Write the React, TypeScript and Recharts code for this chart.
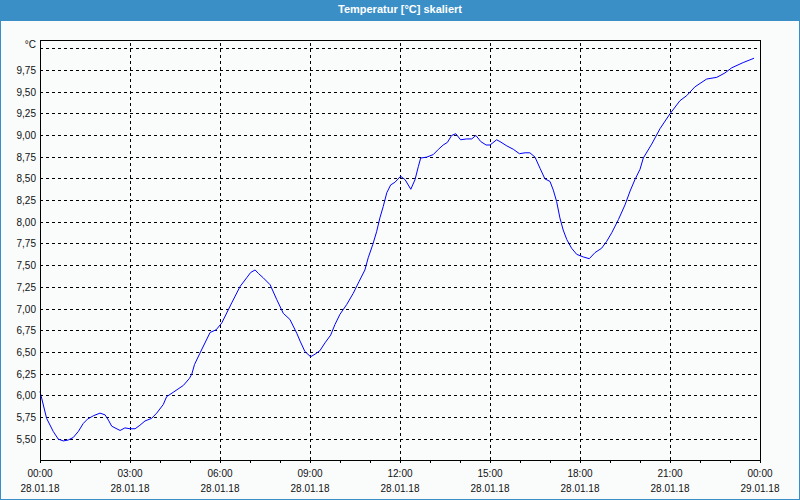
import React from 'react'
import {
  LineChart,
  Line,
  XAxis,
  YAxis,
  CartesianGrid,
  ReferenceLine,
  ReferenceArea,
} from 'recharts'

// Time of day in hours (28.01.18 00:00 = 0)
const hours = [
  0, 0.22, 0.44, 0.61, 0.78, 0.94, 1.11, 1.28, 1.44, 1.58, 1.78, 2.0, 2.17, 2.28, 2.39, 2.5, 2.67,
  2.83, 3.0, 3.17, 3.33, 3.5, 3.72, 3.89, 4.11, 4.22, 4.44, 4.78, 4.98, 5.06, 5.15, 5.33, 5.67, 5.87,
  6.06, 6.39, 6.67, 6.89, 7.02, 7.17, 7.28, 7.44, 7.67, 7.89, 8.11, 8.33, 8.56, 8.67, 8.83, 9.02,
  9.17, 9.33, 9.5, 9.69, 9.83, 10.0, 10.22, 10.44, 10.64, 10.83, 10.94, 11.09, 11.22, 11.33, 11.44,
  11.56, 11.69, 11.83, 12.02, 12.17, 12.36, 12.5, 12.61, 12.69, 12.89, 13.11, 13.28, 13.44, 13.58,
  13.72, 13.86, 14.02, 14.22, 14.39, 14.53, 14.69, 14.87, 15.0, 15.22, 15.33, 15.56, 15.78, 15.98,
  16.17, 16.33, 16.5, 16.67, 16.83, 17.0, 17.11, 17.22, 17.33, 17.44, 17.56, 17.72, 17.89, 18.11,
  18.31, 18.5, 18.72, 18.89, 19.06, 19.28, 19.5, 19.67, 19.83, 20.0, 20.11, 20.39, 20.67, 21.0,
  21.33, 21.56, 21.83, 22.22, 22.56, 22.83, 23.06, 23.44, 23.8,
]

// Temperature in °C
const temps = [
  6.05, 5.74, 5.59, 5.5, 5.48, 5.49, 5.52, 5.59, 5.68, 5.73, 5.77, 5.8, 5.78, 5.72, 5.65, 5.63, 5.6,
  5.63, 5.62, 5.62, 5.66, 5.71, 5.74, 5.8, 5.9, 5.99, 6.04, 6.12, 6.2, 6.25, 6.36, 6.49, 6.73, 6.76,
  6.84, 7.07, 7.26, 7.36, 7.42, 7.45, 7.41, 7.36, 7.28, 7.11, 6.95, 6.88, 6.72, 6.63, 6.51, 6.45,
  6.48, 6.52, 6.61, 6.7, 6.82, 6.94, 7.05, 7.18, 7.32, 7.45, 7.59, 7.74, 7.89, 8.05, 8.18,
  8.34, 8.43, 8.46, 8.53, 8.49, 8.38, 8.49, 8.64, 8.74, 8.75, 8.78, 8.84, 8.89, 8.92,
  9.0, 9.02, 8.95, 8.96, 8.96, 9.0, 8.93, 8.89, 8.89, 8.95, 8.93, 8.88, 8.84, 8.79,
  8.8, 8.8, 8.75, 8.62, 8.5, 8.47, 8.37, 8.24, 8.05, 7.91, 7.8, 7.7, 7.63, 7.6,
  7.58, 7.65, 7.7, 7.78, 7.88, 8.03, 8.2, 8.36, 8.49, 8.61, 8.74, 8.9, 9.08, 9.25,
  9.4, 9.46, 9.56, 9.65, 9.67, 9.72, 9.78, 9.84, 9.89,
]

const hourTicks = [0, 1, 2, 3, 4, 5, 6, 7, 8, 9, 10, 11, 12, 13, 14, 15, 16, 17, 18, 19, 20, 21, 22, 23, 24]
const majorHours = [3, 6, 9, 12, 15, 18, 21]
const tempTicks = [5.5, 5.75, 6, 6.25, 6.5, 6.75, 7, 7.25, 7.5, 7.75, 8, 8.25, 8.5, 8.75, 9, 9.25, 9.5, 9.75, 10]

const FONT = '"Liberation Sans", Arial, sans-serif'
const BLUE = '#3b8fc7'

const data = hours.map((h, i) => ({ h, t: temps[i] }))

function XTick({ x, y, payload }: any) {
  const v = payload.value as number
  if (v % 3 !== 0) return null
  const time = String(v % 24).padStart(2, '0') + ':00'
  const date = v >= 24 ? '29.01.18' : '28.01.18'
  return (
    <g>
      <text x={x} y={y + 14} textAnchor="middle" fontSize={10} fill="#111" fontFamily={FONT}>
        {time}
      </text>
      <text x={x} y={y + 29} textAnchor="middle" fontSize={10} fill="#111" fontFamily={FONT}>
        {date}
      </text>
    </g>
  )
}

function YTick({ x, y, payload }: any) {
  const v = payload.value as number
  const label = v >= 10 ? '°C' : v.toFixed(2).replace('.', ',')
  return (
    <text x={x} y={y + (v >= 10 ? -1 : 3.5)} textAnchor="end" fontSize={10} fill="#111" fontFamily={FONT}>
      {label}
    </text>
  )
}

export default function App() {
  return (
    <div style={{ position: 'fixed', top: 0, left: 0, width: 800, height: 500, background: '#fafcfc', overflow: 'hidden' }}>
      <div
        style={{
          position: 'absolute',
          top: 0,
          left: 0,
          width: 800,
          height: 21,
          background: BLUE,
          color: '#fff',
          fontFamily: FONT,
          fontWeight: 'bold',
          fontSize: 11,
          lineHeight: '19px',
          textAlign: 'center',
        }}
      >
        Temperatur [°C] skaliert
      </div>
      <div style={{ position: 'absolute', top: 0, left: 0 }}>
        <LineChart width={800} height={500} data={data} margin={{ top: 40, right: 40, left: 0, bottom: 0 }}>
          <CartesianGrid vertical={false} stroke="#000" strokeDasharray="3 3" shapeRendering="crispEdges" />
          {majorHours.map((h) => (
            <ReferenceLine key={h} x={h} stroke="#000" strokeDasharray="3 3" shapeRendering="crispEdges" />
          ))}
          <ReferenceArea
            x1={0}
            x2={24}
            y1={5.26}
            y2={10.1}
            fill="none"
            stroke="#000"
            strokeWidth={1}
            shapeRendering="crispEdges"
          />
          <XAxis
            dataKey="h"
            type="number"
            domain={[0, 24]}
            ticks={hourTicks}
            interval={0}
            height={40}
            tickSize={3}
            tickMargin={0}
            tickLine={{ stroke: '#000', shapeRendering: 'crispEdges' }}
            axisLine={{ stroke: '#000', shapeRendering: 'crispEdges' }}
            tick={<XTick />}
          />
          <YAxis
            type="number"
            domain={[5.26, 10.1]}
            ticks={tempTicks}
            interval={0}
            width={40}
            tickSize={0}
            tickMargin={4}
            tickLine={false}
            axisLine={{ stroke: '#000', shapeRendering: 'crispEdges' }}
            tick={<YTick />}
          />
          <Line
            dataKey="t"
            type="linear"
            stroke="#0000ff"
            strokeWidth={1}
            dot={false}
            isAnimationActive={false}
          />
        </LineChart>
      </div>
      <div
        style={{
          position: 'absolute',
          inset: 0,
          border: `1px solid ${BLUE}`,
          boxSizing: 'border-box',
          pointerEvents: 'none',
        }}
      />
    </div>
  )
}
